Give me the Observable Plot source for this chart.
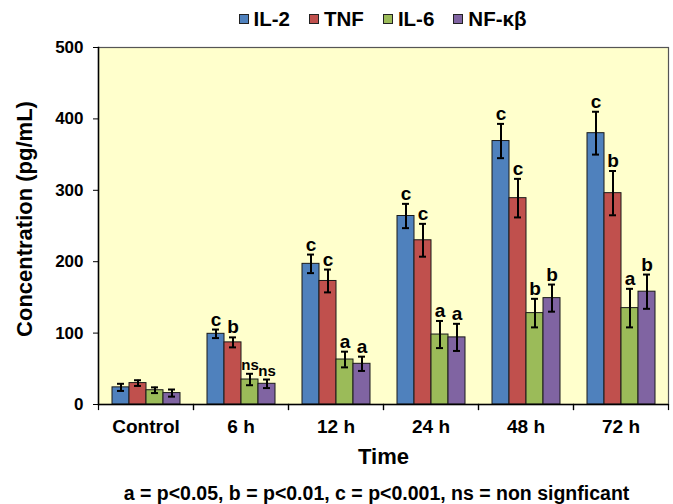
<!DOCTYPE html>
<html><head><meta charset="utf-8">
<script src="https://cdn.jsdelivr.net/npm/d3@7"></script>
<script src="https://cdn.jsdelivr.net/npm/@observablehq/plot@0.6"></script>
<style>
body{margin:0;background:#fff;font-family:"Liberation Sans",Arial,sans-serif;color:#000;}
#legend{box-sizing:border-box;height:34px;padding-top:4px;margin-left:96px;width:573px;display:flex;justify-content:center;align-items:center;gap:19px;font-weight:bold;font-size:20.5px;}
.item{display:flex;align-items:center;gap:5px}
.sw{width:8px;height:8px;border:1px solid #222}
#chart svg{display:block}
#caption{box-sizing:border-box;margin-left:90px;width:573px;height:30px;padding-top:4px;text-align:center;font-weight:bold;font-size:19.5px;line-height:30px;white-space:nowrap;}
</style></head><body>
<div id="legend"></div><div id="chart"></div><div id="caption"></div>
<script>
// ---- data ----
const times = ["Control", "6 h", "12 h", "24 h", "48 h", "72 h"];
const series = ["IL-2", "TNF", "IL-6", "NF-κβ"];
const colors = ["#4F81BD", "#C0504D", "#9BBB59", "#8064A2"];
const il2 = [24, 99, 197, 264, 369, 380];
const il2Err = [5, 6, 13, 17, 24, 30];
const tnf = [30, 87, 173, 230, 289, 296];
const tnfErr = [4, 7, 16, 23, 27, 31];
const il6 = [20, 35, 63, 98, 128, 135];
const il6Err = [4, 8, 11, 19, 20, 27];
const nfkb = [16, 29, 57, 94, 149, 158];
const nfkbErr = [5, 6, 10, 19, 19, 24];
const il2Sig = ["", "c", "c", "c", "c", "c"];
const tnfSig = ["", "b", "c", "c", "c", "b"];
const il6Sig = ["", "ns", "a", "a", "b", "a"];
const nfkbSig = ["", "ns", "a", "a", "b", "b"];
const yTicks = [0, 100, 200, 300, 400, 500];
const xTitle = "Time";
const yTitle = "Concentration (pg/mL)";
const caption = "a = p<0.05, b = p<0.01, c = p<0.001, ns = non signficant";

const valueSets = [il2, tnf, il6, nfkb];
const errSets = [il2Err, tnfErr, il6Err, nfkbErr];
const sigSets = [il2Sig, tnfSig, il6Sig, nfkbSig];
const rows = [];
times.forEach((t, i) => series.forEach((s, j) => rows.push({
  time: t, series: s, value: valueSets[j][i], err: errSets[j][i], sig: sigSets[j][i]
})));

// ---- legend ----
const legend = document.getElementById("legend");
series.forEach((s, j) => {
  const it = document.createElement("div"); it.className = "item";
  const sw = document.createElement("div"); sw.className = "sw"; sw.style.background = colors[j];
  const tx = document.createElement("span"); tx.textContent = s;
  it.append(sw, tx); legend.append(it);
});
document.getElementById("caption").textContent = caption;

// ---- chart ----
const W = 673, H = 440, mL = 96, mR = 4, mT = 13, mB = 70;
const plotH = H - mT - mB;
const lo = d => d.value - d.err, hi = d => d.value + d.err;
const chart = Plot.plot({
  width: W, height: H, marginLeft: mL, marginRight: mR, marginTop: mT, marginBottom: mB,
  style: {fontFamily: "Liberation Sans, Arial, sans-serif", color: "#000", background: "white", overflow: "visible"},
  fx: {domain: times, padding: 0, label: null},
  x: {domain: series, paddingInner: 0, paddingOuter: 0.7, axis: null},
  y: {domain: [0, 500], axis: null},
  color: {domain: series, range: colors},
  marks: [
    Plot.frame({facet: "super", fill: "#FFFFCC", stroke: "#555", strokeWidth: 1.2}),
    Plot.barY(rows, {fx: "time", x: "series", y: "value", fill: "series", stroke: "#1a1a1a", strokeWidth: 1}),
    Plot.ruleX(rows, {fx: "time", x: "series", y1: lo, y2: hi, stroke: "#000", strokeWidth: 2}),
    Plot.tickY(rows, {fx: "time", x: "series", y: lo, stroke: "#000", strokeWidth: 2, insetLeft: 5, insetRight: 5}),
    Plot.tickY(rows, {fx: "time", x: "series", y: hi, stroke: "#000", strokeWidth: 2, insetLeft: 5, insetRight: 5}),
    Plot.text(rows.filter(d => d.sig && d.sig !== "ns"), {fx: "time", x: "series", y: hi, text: "sig", lineAnchor: "bottom", dy: -4, fontSize: 19, fontWeight: "bold", fill: "#000"}),
    Plot.text(rows.filter(d => d.sig === "ns"), {fx: "time", x: "series", y: hi, text: "sig", lineAnchor: "bottom", dy: -4, fontSize: 15, fontWeight: "bold", fill: "#000"}),
    Plot.ruleY([0], {stroke: "#000", strokeWidth: 1.5}),
    Plot.frame({facet: "super", anchor: "left", stroke: "#000", strokeWidth: 1.5}),
    Plot.axisY({ticks: yTicks, tickSize: 5, tickPadding: 10, fontSize: 17, fontWeight: "bold", label: null, stroke: "#000"}),
    Plot.axisFx({anchor: "bottom", tickSize: 0, tickPadding: 15, fontSize: 19, fontWeight: "bold", label: null}),
    Plot.frame({anchor: "left", insetTop: plotH, insetBottom: -5, stroke: "#000", strokeWidth: 1.2}),
    Plot.frame({anchor: "right", insetTop: plotH, insetBottom: -5, stroke: "#000", strokeWidth: 1.2}),
    Plot.text([xTitle], {facet: "super", frameAnchor: "bottom", lineAnchor: "top", dy: 44, fontSize: 22, fontWeight: "bold", fill: "#000"}),
    Plot.text([yTitle], {facet: "super", frameAnchor: "left", textAnchor: "middle", lineAnchor: "middle", rotate: -90, dx: -74, dy: -7, fontSize: 22, fontWeight: "bold", fill: "#000"})
  ]
});
document.getElementById("chart").append(chart);
</script>
</body></html>
